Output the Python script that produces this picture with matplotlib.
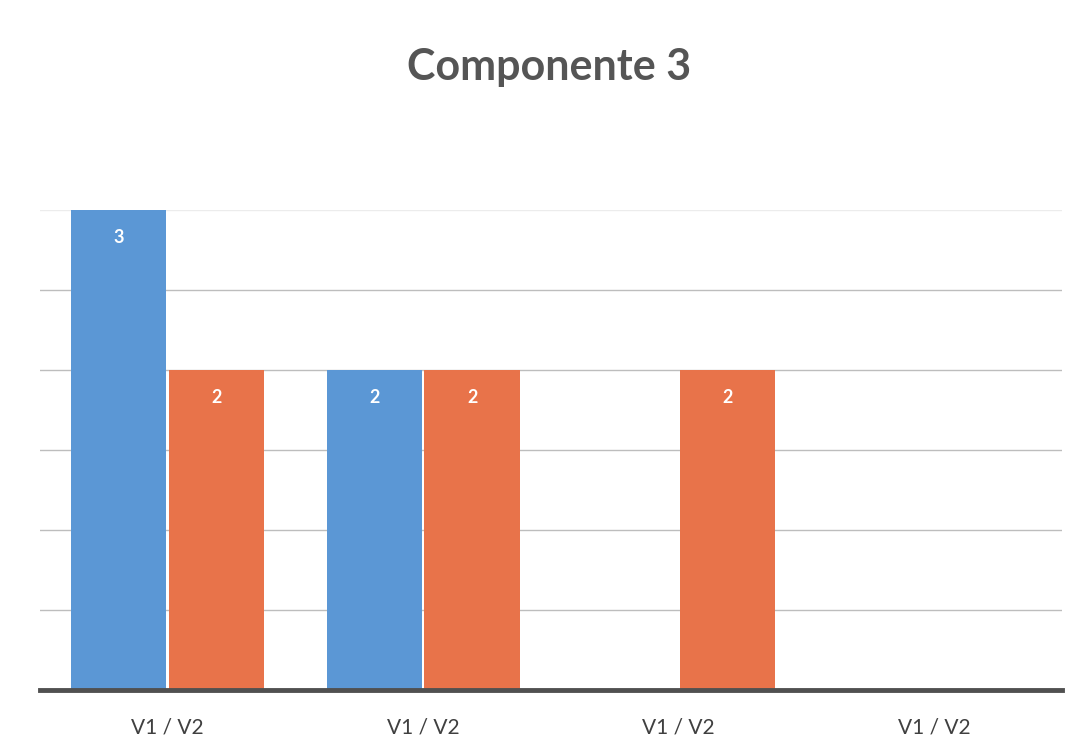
import numpy as np
import matplotlib.pyplot as plt

categories = ['V1 / V2', 'V1 / V2', 'V1 / V2', 'V1 / V2']
v1 = [3, 2, 0, 0]
v2 = [2, 2, 2, 0]

plt.rcParams['font.family'] = ['Lato', 'DejaVu Sans']

fig = plt.figure(figsize=(10.76, 7.52), dpi=100)
ax = fig.add_axes([0.037, 0.0824, 0.950, 0.638])

x = np.arange(len(categories))
w = 0.373
b1 = ax.bar(x - w / 2 - 0.005, v1, w, color='#5B97D5', zorder=3)
b2 = ax.bar(x + w / 2 + 0.005, v2, w, color='#E8734A', zorder=3)

for bars, vals in ((b1, v1), (b2, v2)):
    for r, v in zip(bars, vals):
        if v > 0:
            ax.text(r.get_x() + r.get_width() / 2, v - 0.17, str(v),
                    ha='center', va='center', color='white', fontsize=13,
                    fontweight='bold')

ax.set_xlim(-0.5, len(categories) - 0.5)
ax.set_ylim(0, 3)
ax.set_yticks(np.arange(0.5, 2.51, 0.5))
ax.yaxis.grid(True, color='#bdbdbd', linewidth=1, zorder=0)
ax.axhline(3, color='#ececec', linewidth=1, zorder=0)
ax.tick_params(axis='y', length=0, labelleft=False)
ax.tick_params(axis='x', length=0, pad=20, labelsize=15, labelcolor='#404040')
ax.set_xticks(x)
ax.set_xticklabels(categories)
for s in ['top', 'right', 'left']:
    ax.spines[s].set_visible(False)
ax.spines['bottom'].set_color('#505050')
ax.spines['bottom'].set_linewidth(3.5)
ax.spines['bottom'].set_zorder(4)

fig.text(0.51, 0.911, 'Componente 3', ha='center', va='center',
         fontsize=31, fontweight='bold', color='#555555')

fig.savefig('out.png', dpi=100)
